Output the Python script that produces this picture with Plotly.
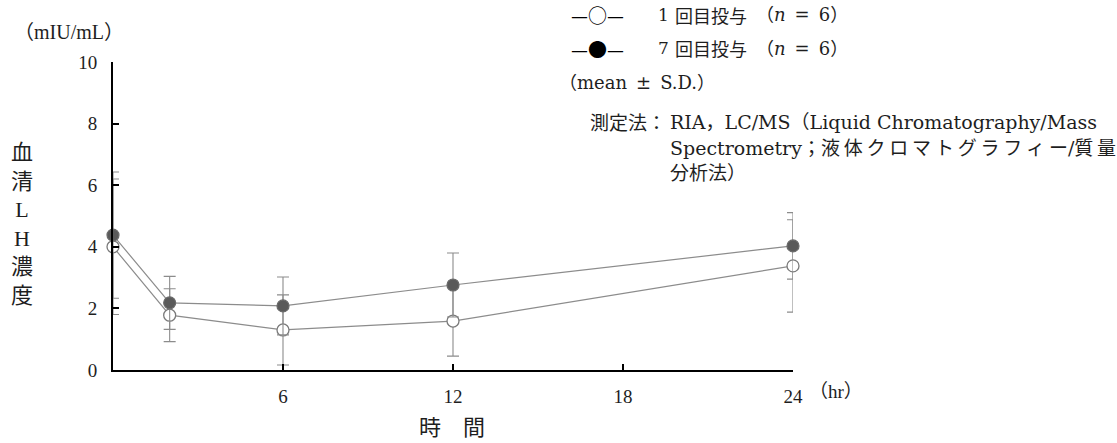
import plotly.graph_objects as go

# Serum LH concentration after the 1st and 7th dose (mean ± S.D.)
time_hr = [0, 2, 6, 12, 24]
dose1_mean = [4.0, 1.78, 1.30, 1.59, 3.38]
dose1_sd = [2.2, 0.86, 1.14, 1.14, 1.50]
dose7_mean = [4.38, 2.18, 2.08, 2.76, 4.03]
dose7_sd = [2.05, 0.86, 0.94, 1.04, 1.08]

y_ticks = [0, 2, 4, 6, 8, 10]
x_ticks = [6, 12, 18, 24]

W, H = 1117, 443
L, R, T, B = 113, 793, 62, 370  # plot area in pixels

SERIF = "Liberation Serif, Noto Sans CJK JP, serif"
WIDE_SERIF = "DejaVu Serif, Noto Sans CJK JP, serif"
CJK = "Noto Sans CJK JP, sans-serif"
INK = "#1e1e1e"


def px(x):
    return (x - L) / (R - L)


def py(y):
    return (B - y) / (B - T)


fig = go.Figure()

fig.add_trace(go.Scatter(
    x=time_hr, y=dose1_mean, mode="lines+markers", name="1回目投与",
    line=dict(color="#8c8c8c", width=1.2),
    marker=dict(symbol="circle", size=12, color="white",
                line=dict(color="#7a7a7a", width=1.3)),
    error_y=dict(type="data", array=dose1_sd, visible=True,
                 color="#8c8c8c", thickness=1.1, width=6),
    cliponaxis=False, showlegend=False,
))
fig.add_trace(go.Scatter(
    x=time_hr, y=dose7_mean, mode="lines+markers", name="7回目投与",
    line=dict(color="#8c8c8c", width=1.2),
    marker=dict(symbol="circle", size=12, color="#5a5a5a",
                line=dict(color="#6a6a6a", width=1.2)),
    error_y=dict(type="data", array=dose7_sd, visible=True,
                 color="#8c8c8c", thickness=1.1, width=6),
    cliponaxis=False, showlegend=False,
))

axis_common = dict(
    showline=True, linecolor="black", linewidth=2,
    ticks="inside", ticklen=6, tickwidth=1.5, tickcolor="black",
    showgrid=False, zeroline=False,
    tickfont=dict(family=SERIF, size=19, color=INK),
)
fig.update_xaxes(range=[0, 24], tickvals=x_ticks, ticklabelstandoff=8, **axis_common)
fig.update_yaxes(range=[0, 10], tickvals=y_ticks, ticklabelstandoff=10, **axis_common)

annotations = []


def note(text, x, y, size=18, family=WIDE_SERIF, xanchor="left", align="left", color=INK):
    annotations.append(dict(
        text=text, x=px(x), y=py(y), xref="paper", yref="paper",
        xanchor=xanchor, yanchor="middle", align=align, showarrow=False,
        font=dict(family=family, size=size, color=color),
    ))


# unit and axis titles
note("（mIU/mL）", 12, 32, size=20, family=SERIF)
note("血<br>清<br>L<br>H<br>濃<br>度", 22, 224, size=22, family=SERIF,
     xanchor="center", align="center")
note("時　間", 452, 428, size=22, family=SERIF, xanchor="center")
note("（hr）", 807, 391, size=19, family=SERIF)

# legend
for row_y, symbol, count in [(15, "—○—", "1"), (48, "—●—", "7")]:
    note(symbol, 569, row_y, size=19, family=CJK, color="black")
    note(count, 656, row_y, size=17)
    note("回目投与", 673, row_y, size=18, family=CJK)
    note("（<i>n</i>\u2002=\u20026）", 754, row_y, size=18)
note("（mean\u2002±\u2002S.D.）", 557, 82, size=18)

# assay method
note("測定法：", 668, 122, size=19, family=CJK, xanchor="right")
note("RIA，LC/MS（Liquid Chromatography/Mass", 668, 122, size=19)
note("Spectrometry；液\u2009体\u2009ク\u2009ロ\u2009マ\u2009ト\u2009グ\u2009ラ\u2009フ\u2009ィ\u2009ー/質\u2009量",
     668, 148, size=19)
note("分析法）", 668, 173, size=19)

fig.update_layout(
    width=W, height=H,
    margin=dict(l=L, r=W - R, t=T, b=H - B, pad=0),
    paper_bgcolor="white", plot_bgcolor="white",
    annotations=annotations,
)

fig.write_html("out.html")
